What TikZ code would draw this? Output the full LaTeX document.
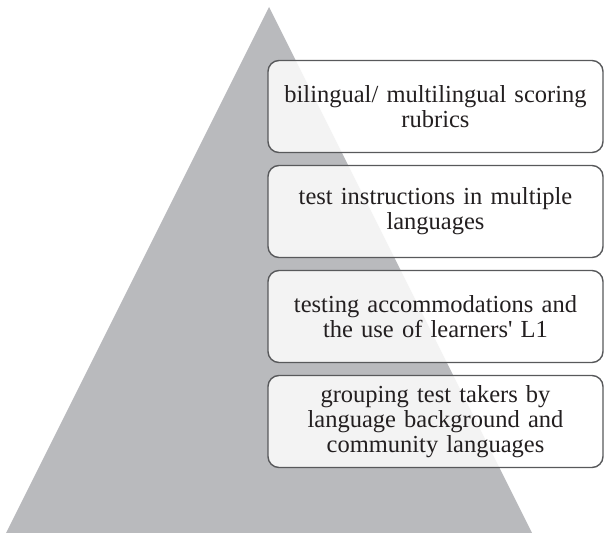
\documentclass[tikz,border=0pt]{standalone}
\usepackage{fontspec}
\setmainfont{Liberation Serif}
\begin{document}
\definecolor{pyramidgray}{HTML}{B9BABD}
\definecolor{boxline}{HTML}{58595B}
\definecolor{ink}{HTML}{231F20}
\begin{tikzpicture}[x=1pt,y=-1pt,
  level/.style={draw=boxline, line width=1.4pt, rounded corners=11pt,
    fill=white, fill opacity=0.83, draw opacity=1, text opacity=1, text=ink,
    minimum width=335pt, minimum height=92pt, inner sep=0pt,
    text width=330pt, align=center,
    font=\fontsize{24.5pt}{25pt}\selectfont}]
  \useasboundingbox (0,0) rectangle (604,532);
  % background pyramid
  \fill[pyramidgray] (269,7) -- (532,533) -- (6,533) -- cycle;
  % stacked strategy boxes, top to bottom
  \node[level] (b1) at (435.5,106.5) {bilingual/ multilingual scoring\\rubrics};
  \node[level] (b2) at (435.5,211.5) {test instructions in multiple\\languages};
  \node[level] (b3) at (435.5,316.5) {testing accommodations and\\the use of learners\textquotesingle\ L1};
  \node[level] (b4) at (435.5,421.5) {grouping test takers by\\language background and\\community languages};
\end{tikzpicture}
\end{document}
